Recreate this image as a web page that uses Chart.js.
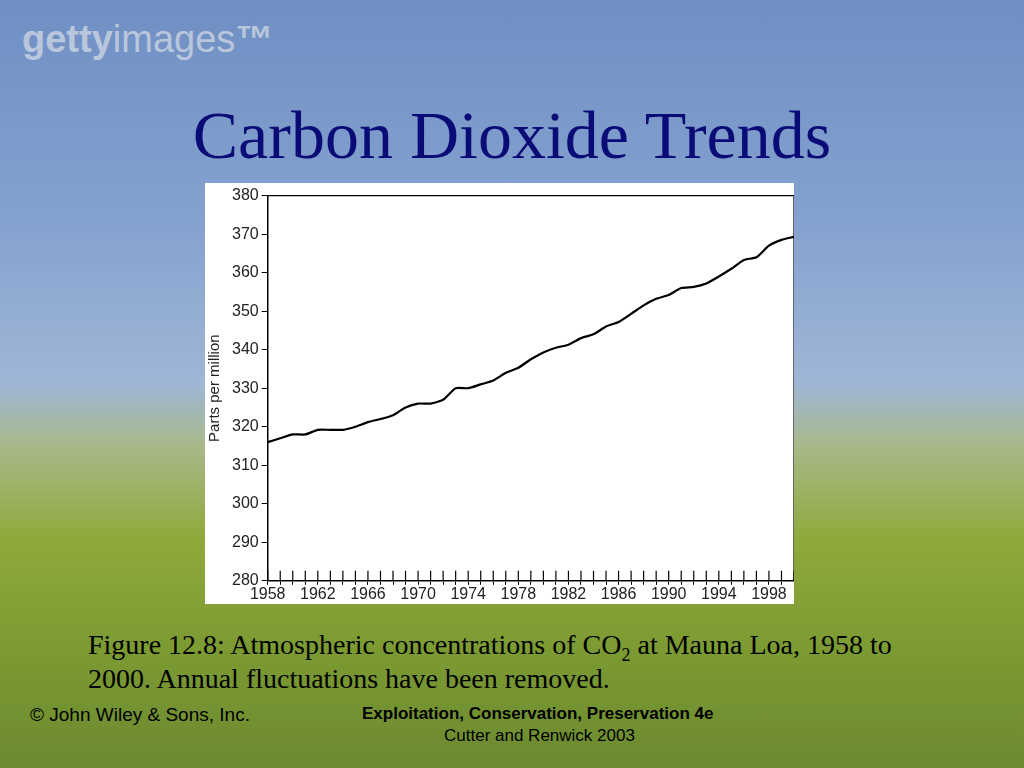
<!DOCTYPE html>
<html>
<head>
<meta charset="utf-8">
<script src="https://cdn.jsdelivr.net/npm/chart.js@4"></script>
<style>
body { margin:0; width:1024px; height:768px; overflow:hidden; position:relative;
  background: linear-gradient(180deg, #6f8fc4 0%, #86a3cf 30%, #9fb6d6 50%, #a8b98a 58%, #8faa3c 70%, #7b9a32 85%, #6c8a30 100%);
  font-family: "Liberation Serif", serif; }
#logo { position:absolute; left:22px; top:18px; font:bold 38px "Liberation Sans", sans-serif; color:rgba(235,235,235,0.6); }
#title { position:absolute; left:0; width:1024px; top:96px; text-align:center; font-size:68px; color:#0b0b78; }
#box { position:absolute; left:205px; top:183px; width:589px; height:421px; background:#fff; }
#cap { position:absolute; left:88px; top:628px; font-size:28px; line-height:34px; color:#000; white-space:nowrap; }
.foot { position:absolute; font:19px "Liberation Sans", sans-serif; color:#000; }
</style>
</head>
<body>
<div id="logo">getty<span style="font-weight:normal">images</span>™</div>
<div id="title">Carbon Dioxide Trends</div>
<div id="box"><canvas id="c" width="589" height="421"></canvas></div>
<div id="cap">Figure 12.8: Atmospheric concentrations of CO<sub style="font-size:18px;line-height:0">2</sub> at Mauna Loa, 1958 to<br>2000. Annual fluctuations have been removed.</div>
<div class="foot" style="left:30px;top:704px">© John Wiley &amp; Sons, Inc.</div>
<div class="foot" style="left:362px;top:704px;font-weight:bold;font-size:17px">Exploitation, Conservation, Preservation 4e</div>
<div class="foot" style="left:444px;top:726px;font-size:17px">Cutter and Renwick 2003</div>
<script>
var years = [];
for (var y = 1958; y <= 2000; y++) years.push(y);
var ppm = [316, 317, 318, 318, 319.2, 319.2, 319.2, 320, 321.2, 322, 323, 325, 326, 326, 327,
  330, 330, 331, 332, 334, 335.3, 337.5, 339.3, 340.5, 341.3, 343, 344, 346, 347.2, 349.3,
  351.5, 353.2, 354.2, 356, 356.3, 357.2, 359, 361, 363.3, 364, 367, 368.5, 369.3];
var yTicks = [280, 290, 300, 310, 320, 330, 340, 350, 360, 370, 380];

var points = years.map(function (yr, i) { return { x: yr, y: ppm[i] }; });
var tickFont = { family: "Liberation Sans", size: 16 };

new Chart(document.getElementById('c').getContext('2d'), {
    type: 'line',
    data: { datasets: [{ data: points, borderColor: '#000', borderWidth: 2.2, pointRadius: 0, tension: 0.2, fill: false }] },
    options: {
        responsive: false, animation: false,
        layout: { padding: { top: 8, right: 0, bottom: 0, left: 1 } },
        plugins: { legend: { display: false }, tooltip: { enabled: false } },
        scales: {
            x: {
                type: 'linear', min: 1958, max: 2000,
                afterBuildTicks: function (s) { s.ticks = years.map(function (v) { return { value: v }; }); },
                ticks: { autoSkip: false, maxRotation: 0, color: '#222', font: tickFont, padding: 0,
                    callback: function (v) { return (v - 1958) % 4 === 0 && v < 2000 ? String(v) : ''; } },
                grid: { drawOnChartArea: false, color: '#000', tickLength: 4 },
                border: { color: '#000', width: 1.5 }
            },
            y: {
                min: 280, max: 380,
                afterBuildTicks: function (s) { s.ticks = yTicks.map(function (v) { return { value: v }; }); },
                ticks: { color: '#222', font: tickFont, padding: 3 },
                grid: { drawOnChartArea: false, color: '#000', tickLength: 6 },
                border: { color: '#000', width: 1.5 },
                title: { display: true, text: 'Parts per million', color: '#222', font: { family: "Liberation Sans", size: 15 }, padding: { top: 0, bottom: 5 } }
            }
        }
    },
    plugins: [{
        id: 'frame',
        afterDraw: function (ch) {
            var a = ch.chartArea, g = ch.ctx, xs = ch.scales.x;
            g.save(); g.strokeStyle = '#000'; g.lineWidth = 1.2;
            g.beginPath(); g.moveTo(a.left, a.top); g.lineTo(a.right, a.top); g.lineTo(a.right, a.bottom); g.stroke();
            // inward year ticks as in the original figure
            years.forEach(function (v) {
                var px = xs.getPixelForValue(v);
                g.beginPath(); g.moveTo(px, a.bottom); g.lineTo(px, a.bottom - 10); g.stroke();
            });
            g.restore();
        }
    }]
});
</script>
</body>
</html>
